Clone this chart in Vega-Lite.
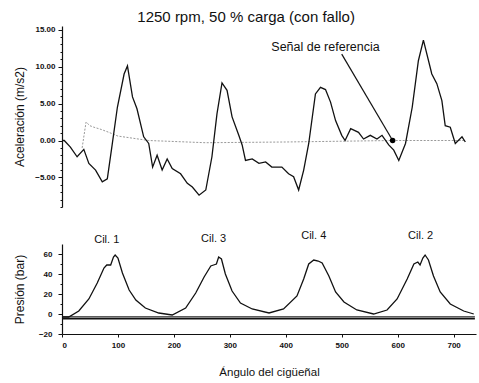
{
  "$schema": "https://vega.github.io/schema/vega-lite/v6.json",
  "padding": {"left": 13, "top": 9, "right": 2, "bottom": 2},
  "bounds": "flush",
  "spacing": 37,
  "title": {"text": "1250 rpm, 50 % carga (con fallo)", "font": "Liberation Sans", "fontSize": 15, "fontWeight": "normal", "color": "#111", "anchor": "middle", "offset": 1},
  "config": {
    "view": {"stroke": null},
    "font": "Liberation Sans",
    "axis": {"grid": false, "domainColor": "#111", "tickColor": "#111", "labelColor": "#111", "titleColor": "#111", "labelFont": "Liberation Sans", "titleFont": "Liberation Sans", "titleFontWeight": "normal", "labelFontWeight": "bold", "labelFontSize": 8, "titleFontSize": 12, "domainWidth": 1.2, "tickSize": 4, "labelOverlap": false}
  },
  "datasets": {
    "acc": [
      {"deg": 0, "val": 0}, {"deg": 4, "val": 0}, {"deg": 15, "val": -0.9}, {"deg": 27, "val": -2.2}, {"deg": 39, "val": -1.2},
      {"deg": 48, "val": -3.1}, {"deg": 60, "val": -4.0}, {"deg": 72, "val": -5.6}, {"deg": 81, "val": -5.2}, {"deg": 90, "val": -0.4},
      {"deg": 99, "val": 4.5}, {"deg": 111, "val": 9.0}, {"deg": 117, "val": 10.1}, {"deg": 126, "val": 5.9}, {"deg": 134, "val": 4.3},
      {"deg": 146, "val": 0.5}, {"deg": 155, "val": -0.4}, {"deg": 162, "val": -3.6}, {"deg": 170, "val": -2.0}, {"deg": 179, "val": -4.0},
      {"deg": 188, "val": -2.5}, {"deg": 197, "val": -3.8}, {"deg": 212, "val": -4.5}, {"deg": 224, "val": -5.8}, {"deg": 233, "val": -6.3},
      {"deg": 245, "val": -7.4}, {"deg": 257, "val": -6.7}, {"deg": 268, "val": -2.2}, {"deg": 277, "val": 3.6}, {"deg": 286, "val": 7.8},
      {"deg": 295, "val": 6.8}, {"deg": 304, "val": 3.2}, {"deg": 316, "val": 0.7}, {"deg": 322, "val": -0.6}, {"deg": 328, "val": -2.7},
      {"deg": 340, "val": -2.5}, {"deg": 352, "val": -3.1}, {"deg": 364, "val": -2.9}, {"deg": 375, "val": -3.6}, {"deg": 393, "val": -3.6},
      {"deg": 405, "val": -4.5}, {"deg": 414, "val": -4.9}, {"deg": 423, "val": -6.7}, {"deg": 432, "val": -4.0}, {"deg": 441, "val": -0.4},
      {"deg": 453, "val": 6.3}, {"deg": 462, "val": 7.2}, {"deg": 471, "val": 6.9}, {"deg": 480, "val": 5.2}, {"deg": 489, "val": 2.7},
      {"deg": 500, "val": 0.7}, {"deg": 506, "val": 0}, {"deg": 516, "val": 1.6}, {"deg": 530, "val": 1.1}, {"deg": 539, "val": 0.2},
      {"deg": 551, "val": 0.7}, {"deg": 563, "val": 0.2}, {"deg": 572, "val": 0.7}, {"deg": 584, "val": -0.6}, {"deg": 593, "val": -1.3},
      {"deg": 602, "val": -2.7}, {"deg": 614, "val": -0.4}, {"deg": 626, "val": 4.5}, {"deg": 637, "val": 10.8}, {"deg": 646, "val": 13.6},
      {"deg": 661, "val": 9.0}, {"deg": 670, "val": 7.7}, {"deg": 679, "val": 5.4}, {"deg": 685, "val": 2.0}, {"deg": 694, "val": 1.8},
      {"deg": 703, "val": -0.4}, {"deg": 715, "val": 0.5}, {"deg": 721, "val": -0.2}
    ],
    "ref": [
      {"deg": 36, "val": -1.0}, {"deg": 43, "val": 2.5}, {"deg": 50, "val": 2.0}, {"deg": 57, "val": 1.8}, {"deg": 70, "val": 1.5},
      {"deg": 84, "val": 1.1}, {"deg": 100, "val": 0.6}, {"deg": 155, "val": 0}, {"deg": 257, "val": -0.3}, {"deg": 400, "val": -0.2},
      {"deg": 590, "val": 0}, {"deg": 721, "val": 0}
    ],
    "ann": [
      {"x1": 500, "y1": 11.7, "x2": 591, "y2": 0, "label": "Señal de referencia", "tx": 471, "ty": 12.7}
    ],
    "pres": [
      {"deg": 0, "val": -3}, {"deg": 12, "val": -3}, {"deg": 30, "val": 3}, {"deg": 48, "val": 15}, {"deg": 63, "val": 31},
      {"deg": 75, "val": 46}, {"deg": 80, "val": 49}, {"deg": 87, "val": 49}, {"deg": 92, "val": 57}, {"deg": 95, "val": 59},
      {"deg": 100, "val": 56}, {"deg": 108, "val": 41}, {"deg": 120, "val": 24}, {"deg": 132, "val": 14}, {"deg": 149, "val": 6},
      {"deg": 173, "val": 1}, {"deg": 197, "val": -1}, {"deg": 221, "val": 6}, {"deg": 239, "val": 21}, {"deg": 254, "val": 37},
      {"deg": 266, "val": 48}, {"deg": 271, "val": 49}, {"deg": 276, "val": 50}, {"deg": 280, "val": 57}, {"deg": 285, "val": 55},
      {"deg": 292, "val": 40}, {"deg": 304, "val": 23}, {"deg": 319, "val": 11}, {"deg": 340, "val": 5}, {"deg": 370, "val": 1},
      {"deg": 396, "val": 5}, {"deg": 420, "val": 18}, {"deg": 432, "val": 35}, {"deg": 441, "val": 50}, {"deg": 450, "val": 54},
      {"deg": 458, "val": 53}, {"deg": 465, "val": 51}, {"deg": 477, "val": 38}, {"deg": 489, "val": 22}, {"deg": 504, "val": 12},
      {"deg": 527, "val": 4}, {"deg": 557, "val": 0}, {"deg": 581, "val": 4}, {"deg": 599, "val": 15}, {"deg": 617, "val": 35},
      {"deg": 629, "val": 50}, {"deg": 636, "val": 52}, {"deg": 640, "val": 49}, {"deg": 645, "val": 56}, {"deg": 649, "val": 59},
      {"deg": 655, "val": 54}, {"deg": 664, "val": 38}, {"deg": 676, "val": 22}, {"deg": 694, "val": 10}, {"deg": 718, "val": 3},
      {"deg": 736, "val": 0}
    ],
    "base": [
      {"s": "a", "deg": 0, "val": -4.5}, {"s": "a", "deg": 738, "val": -4.5},
      {"s": "b", "deg": 0, "val": -2.5}, {"s": "b", "deg": 738, "val": -2.5}
    ],
    "cil": [
      {"deg": 80, "val": 74, "label": "Cil. 1"},
      {"deg": 271, "val": 75, "label": "Cil. 3"},
      {"deg": 450, "val": 78, "label": "Cil. 4"},
      {"deg": 641, "val": 78, "label": "Cil. 2"}
    ]
  },
  "vconcat": [
    {
      "width": 414,
      "height": 181,
      "layer": [
        {
          "data": {"name": "ref"},
          "mark": {"type": "line", "color": "#999", "strokeWidth": 1, "strokeDash": [2, 1.5]},
          "encoding": {
            "x": {"field": "deg", "type": "quantitative", "scale": {"domain": [0, 740], "nice": false}, "axis": null},
            "y": {"field": "val", "type": "quantitative", "scale": {"domain": [-9, 15.5], "nice": false, "zero": false},
              "axis": {"title": "Aceleración (m/s2)", "titlePadding": 8, "tickCount": 40,
                "values": [-9,-8,-7,-6,-5,-4,-3,-2,-1,0,1,2,3,4,5,6,7,8,9,10,11,12,13,14,15],
                "labelExpr": "datum.value % 5 === 0 ? format(datum.value, '.2f') : ''", "labelPadding": 3,
                "tickSize": {"condition": {"test": "datum.value % 5 === 0", "value": 4}, "value": 2}}}
          }
        },
        {
          "data": {"name": "acc"},
          "mark": {"type": "line", "color": "#111", "strokeWidth": 1.3},
          "encoding": {
            "x": {"field": "deg", "type": "quantitative"},
            "y": {"field": "val", "type": "quantitative"}
          }
        },
        {
          "data": {"name": "ann"},
          "mark": {"type": "rule", "color": "#111", "strokeWidth": 1.2},
          "encoding": {
            "x": {"field": "x1", "type": "quantitative"},
            "x2": {"field": "x2"},
            "y": {"field": "y1", "type": "quantitative"},
            "y2": {"field": "y2"}
          }
        },
        {
          "data": {"name": "ann"},
          "mark": {"type": "point", "filled": true, "color": "#000", "size": 30, "opacity": 1},
          "encoding": {
            "x": {"field": "x2", "type": "quantitative"},
            "y": {"field": "y2", "type": "quantitative"}
          }
        },
        {
          "data": {"name": "ann"},
          "mark": {"type": "text", "font": "Liberation Sans", "fontSize": 12.5, "color": "#111", "align": "center", "baseline": "middle"},
          "encoding": {
            "x": {"field": "tx", "type": "quantitative"},
            "y": {"field": "ty", "type": "quantitative"},
            "text": {"field": "label"}
          }
        }
      ]
    },
    {
      "width": 414,
      "height": 90,
      "layer": [
        {
          "data": {"name": "base"},
          "transform": [{"filter": "datum.s === 'a'"}],
          "mark": {"type": "line", "color": "#111", "strokeWidth": 2},
          "encoding": {
            "x": {"field": "deg", "type": "quantitative", "scale": {"domain": [0, 740], "nice": false},
              "axis": {"title": "Ángulo del cigüeñal", "titleFontSize": 11.5, "tickCount": 10, "values": [0, 100, 200, 300, 400, 500, 600, 700], "format": "d", "tickSize": 3, "labelPadding": 4, "titlePadding": 17}},
            "y": {"field": "val", "type": "quantitative", "scale": {"domain": [-20, 70], "nice": false, "zero": false},
              "axis": {"title": "Presión (bar)", "titlePadding": 12, "tickCount": 20, "values": [-20, -10, 0, 10, 20, 30, 40, 50, 60],
                "labelExpr": "datum.value % 20 === 0 ? format(datum.value, 'd') : ''", "labelPadding": 6,
                "tickSize": {"condition": {"test": "datum.value % 20 === 0", "value": 4}, "value": 2}}},
            "detail": {"field": "s"}
          }
        },
        {
          "data": {"name": "base"},
          "transform": [{"filter": "datum.s === 'b'"}],
          "mark": {"type": "line", "color": "#333", "strokeWidth": 0.8},
          "encoding": {
            "x": {"field": "deg", "type": "quantitative"},
            "y": {"field": "val", "type": "quantitative"}
          }
        },
        {
          "data": {"name": "pres"},
          "mark": {"type": "line", "color": "#111", "strokeWidth": 1.3},
          "encoding": {
            "x": {"field": "deg", "type": "quantitative"},
            "y": {"field": "val", "type": "quantitative"}
          }
        },
        {
          "data": {"name": "cil"},
          "mark": {"type": "text", "font": "Liberation Sans", "fontSize": 11, "color": "#111", "align": "center", "baseline": "middle"},
          "encoding": {
            "x": {"field": "deg", "type": "quantitative"},
            "y": {"field": "val", "type": "quantitative"},
            "text": {"field": "label"}
          }
        }
      ]
    }
  ]
}
